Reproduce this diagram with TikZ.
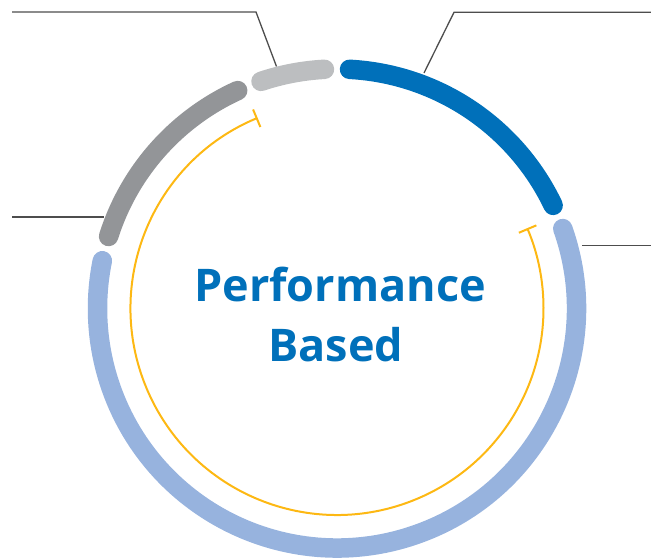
\documentclass[tikz,border=0pt]{standalone}
\usepackage{fontspec}
\setmainfont{Open Sans}
\usetikzlibrary{arrows.meta}
\definecolor{cblue}{RGB}{0,112,186}
\definecolor{clblue}{RGB}{151,179,222}
\definecolor{cdgray}{RGB}{147,149,152}
\definecolor{clgray}{RGB}{188,190,192}
\definecolor{corange}{RGB}{253,184,19}
\definecolor{cline}{RGB}{77,77,77}
\begin{document}
\begin{tikzpicture}[x=1pt,y=1pt,
  seg/.style={line width=19.5pt, line cap=round},
  leader/.style={draw=cline, line width=1.3pt},
  title/.style={anchor=base, text=cblue, font=\fontsize{45}{54}\selectfont\bfseries, inner sep=0pt}]
\useasboundingbox (0,0) rectangle (651,559);
\coordinate (C) at (337,250.5);
% ring segments
\draw[seg, cblue]  ([shift={(87:239.5)}]C) arc[start angle=87, end angle=25.5, radius=239.5];
\draw[seg, clblue] ([shift={(19.5:239.5)}]C) arc[start angle=19.5, end angle=-191.5, radius=239.5];
\draw[seg, cdgray] ([shift={(162.5:239.5)}]C) arc[start angle=162.5, end angle=114.5, radius=239.5];
\draw[seg, clgray] ([shift={(108.5:239.5)}]C) arc[start angle=108.5, end angle=93, radius=239.5];
% inner orange arc
\draw[corange, line width=2pt, {Bar[width=19pt]}-{Bar[width=19pt]}]
  ([shift={(112.6:206.5)}]C) arc[start angle=112.6, end angle=382.9, radius=206.5];
% leader lines
\coordinate (tl0) at (12,547);   \coordinate (tl1) at (256,547);   \coordinate (tl2) at (276.5,492.5);
\coordinate (tr0) at (651,546.7); \coordinate (tr1) at (454,546.7); \coordinate (tr2) at (424,486);
\coordinate (l0) at (12,342);    \coordinate (l1) at (104,342);
\coordinate (r0) at (582,313.5); \coordinate (r1) at (651,313.5);
\draw[leader] (tl0) -- (tl1) -- (tl2);
\draw[leader] (tr0) -- (tr1) -- (tr2);
\draw[leader] (l0) -- (l1);
\draw[leader] (r0) -- (r1);
% title
\node[title] (t1) at (340,257.5) {Performance};
\node[title] (t2) at (336,197.5) {Based};
\end{tikzpicture}
\end{document}
